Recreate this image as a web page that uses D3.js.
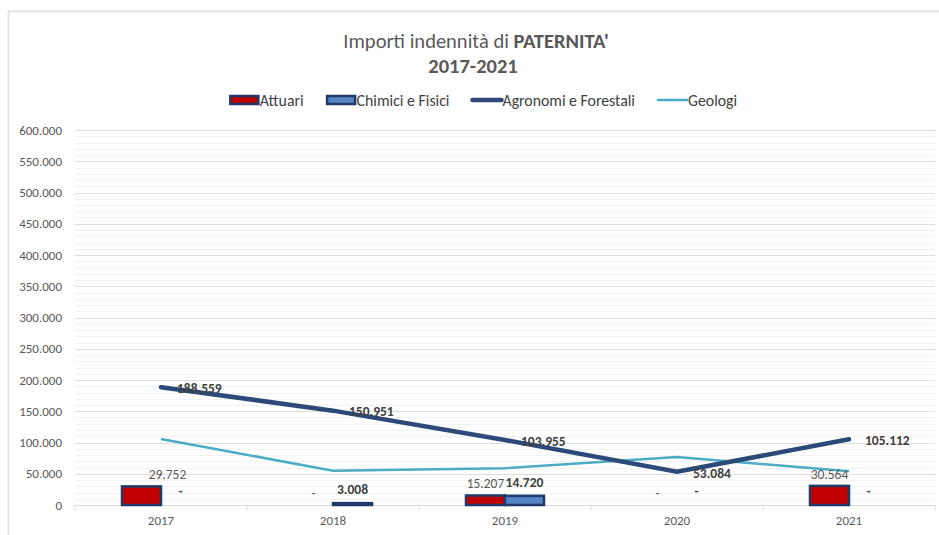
<!DOCTYPE html>
<html lang="it">
<head>
<meta charset="UTF-8">
<title>Importi indennità di PATERNITA'</title>
<script src="https://d3js.org/d3.v7.min.js"></script>
<style>
    body { margin: 0; background: #fff; }
    text { font-family: Carlito, Calibri, "Open Sans", sans-serif; }
</style>
</head>
<body>
<svg id="svg" width="939" height="535"></svg>

<script>
// data
const years = ['2017', '2018', '2019', '2020', '2021'];
const attuari = [29752, 0, 15207, 0, 30564];
const chimici = [0, 3008, 14720, 0, 0];
const agronomi = [188559, 150951, 103955, 53084, 105112];
const geologi = [105600, 54900, 58700, 76800, 54000];
const yTicks = [0, 50000, 100000, 150000, 200000, 250000, 300000, 350000, 400000, 450000, 500000, 550000, 600000];

const svg = d3.select('#svg');
const it = d3.formatLocale({decimal: ',', thousands: '.', grouping: [3], currency: ['€', '']});
const fmt = it.format(',.0f');
const lbl = v => v === 0 ? '-' : fmt(v);

const red = '#c00000', blue = '#5585c5', navy = '#1f3a68', agroCol = '#2c4a79', geoCol = '#4bacc6';

// chart border
svg.append('rect').attr('x', 8.5).attr('y', 11.5).attr('width', 940).attr('height', 540)
    .attr('fill', 'none').attr('stroke', '#e3e3e3').attr('stroke-width', 2);

const m = {left: 75, right: 935, top: 130, bottom: 505};

let x = d3.scaleBand().domain(years).range([m.left, m.right]);
let y = d3.scaleLinear().domain([0, 600000]).range([m.bottom, m.top]);
const bw = 39;

// minor grid
svg.append('g').selectAll('line')
    .data(d3.range(10000, 600001, 10000).filter(v => v % 50000 !== 0))
    .join('line')
    .attr('x1', m.left).attr('x2', m.right)
    .attr('y1', d => Math.round(y(d)) + 0.5).attr('y2', d => Math.round(y(d)) + 0.5)
    .attr('stroke', '#f2f2f2');

// major grid
svg.append('g').selectAll('line')
    .data(yTicks.slice(1))
    .join('line')
    .attr('x1', m.left).attr('x2', m.right)
    .attr('y1', d => Math.round(y(d)) + 0.5).attr('y2', d => Math.round(y(d)) + 0.5)
    .attr('stroke', '#dedede');

// y axis labels
let yAxis = svg.append('g').attr('transform', `translate(${m.left},0)`)
    .call(d3.axisLeft(y).tickValues(yTicks).tickFormat(d => d === 0 ? '0' : fmt(d)).tickSize(0).tickPadding(13));
yAxis.select('.domain').remove();
yAxis.selectAll('text').attr('fill', '#595959').style('font-size', '13px');

// x axis
let xAxis = svg.append('g').attr('transform', `translate(0,${m.bottom})`)
    .call(d3.axisBottom(x).tickSize(0).tickPadding(11));
xAxis.select('.domain').attr('stroke', '#d9d9d9').attr('d', `M${m.left},0.5H${m.right}`);
xAxis.selectAll('text').attr('fill', '#595959').style('font-size', '13px');
svg.append('g').selectAll('line')
    .data(d3.range(years.length + 1))
    .join('line')
    .attr('x1', i => m.left + i * x.step()).attr('x2', i => m.left + i * x.step())
    .attr('y1', m.bottom).attr('y2', m.bottom + 6)
    .attr('stroke', '#d9d9d9');

// bars
const cx = d => x(d) + x.bandwidth() / 2;
svg.append('g').selectAll('rect')
    .data(years.map((d, i) => ({year: d, v: attuari[i]})).filter(d => d.v > 0))
    .join('rect')
    .attr('x', d => cx(d.year) - bw).attr('width', bw)
    .attr('y', d => y(d.v)).attr('height', d => m.bottom - y(d.v))
    .attr('fill', red).attr('stroke', navy).attr('stroke-width', 2.5);
svg.append('g').selectAll('rect')
    .data(years.map((d, i) => ({year: d, v: chimici[i]})).filter(d => d.v > 0))
    .join('rect')
    .attr('x', d => cx(d.year)).attr('width', bw)
    .attr('y', d => y(d.v)).attr('height', d => m.bottom - y(d.v))
    .attr('fill', blue).attr('stroke', navy).attr('stroke-width', 2.5);

// lines
const line = d3.line().x((d, i) => cx(years[i])).y(d => y(d));
svg.append('path').datum(geologi).attr('d', line)
    .attr('fill', 'none').attr('stroke', geoCol).attr('stroke-width', 2.5);
svg.append('path').datum(agronomi).attr('d', line)
    .attr('fill', 'none').attr('stroke', agroCol).attr('stroke-width', 4.5).attr('stroke-linecap', 'round');

// data labels
const nudge = {'2017': 26};
svg.append('g').selectAll('text')
    .data(years.map((d, i) => ({year: d, v: attuari[i]})))
    .join('text')
    .attr('x', d => cx(d.year) - bw / 2 + (nudge[d.year] || 0))
    .attr('y', d => y(d.v) - 12).attr('dy', '0.35em')
    .attr('text-anchor', 'middle').attr('fill', '#595959').style('font-size', '13.5px')
    .text(d => lbl(d.v));
svg.append('g').selectAll('text')
    .data(years.map((d, i) => ({year: d, v: chimici[i]})))
    .join('text')
    .attr('x', d => cx(d.year) + bw / 2)
    .attr('y', d => y(d.v) - 14).attr('dy', '0.35em')
    .attr('text-anchor', 'middle').attr('fill', '#404040').style('font-size', '13.5px').style('font-weight', 'bold')
    .text(d => lbl(d.v));
svg.append('g').selectAll('text')
    .data(agronomi)
    .join('text')
    .attr('x', (d, i) => cx(years[i]) + 16)
    .attr('y', d => y(d) + 1).attr('dy', '0.35em')
    .attr('fill', '#404040').style('font-size', '13.5px').style('font-weight', 'bold')
    .text(d => lbl(d));

// title
let title = svg.append('text').attr('x', 476).attr('y', 48).attr('text-anchor', 'middle')
    .attr('fill', '#595959').style('font-size', '20.5px');
title.append('tspan').text('Importi indennità di ');
title.append('tspan').style('font-weight', 'bold').text("PATERNITA'");
svg.append('text').attr('x', 473).attr('y', 73).attr('text-anchor', 'middle')
    .attr('fill', '#595959').style('font-size', '20.5px').style('font-weight', 'bold')
    .text('2017-2021');

// legend
const legendItems = [
    {name: 'Attuari', type: 'bar', fill: red},
    {name: 'Chimici e Fisici', type: 'bar', fill: blue},
    {name: 'Agronomi e Forestali', type: 'line', col: agroCol, w: 4.5},
    {name: 'Geologi', type: 'line', col: geoCol, w: 2.5}
];
let legend = svg.append('g');
let lx = 0;
legendItems.forEach(d => {
    let g = legend.append('g').attr('transform', `translate(${lx},0)`);
    if (d.type === 'bar') {
        g.append('rect').attr('x', 1.5).attr('y', -4).attr('width', 28).attr('height', 8)
            .attr('fill', d.fill).attr('stroke', navy).attr('stroke-width', 2.5);
    } else {
        g.append('line').attr('x1', 1).attr('x2', 30).attr('y1', 0).attr('y2', 0)
            .attr('stroke', d.col).attr('stroke-width', d.w).attr('stroke-linecap', 'round');
    }
    let t = g.append('text').attr('x', 31).attr('dy', '0.35em')
        .attr('fill', '#404040').style('font-size', '15.8px').text(d.name);
    lx += 31 + t.node().getComputedTextLength() + 22;
});
lx -= 22;
legend.attr('transform', `translate(${483 - lx / 2},100)`);
</script>
</body>
</html>
